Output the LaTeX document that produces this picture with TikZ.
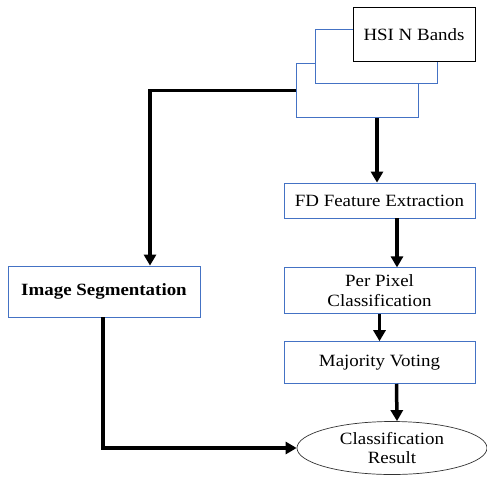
\documentclass[tikz,border=0pt]{standalone}
\usepackage{fontspec}
\setmainfont[FakeStretch=1.1]{Liberation Serif}
\usepackage{xcolor}
\usepackage{tikz}
\usetikzlibrary{arrows.meta,positioning,calc,shapes.geometric}
\definecolor{edge}{HTML}{4472C4}
\newcommand{\txt}{\fontsize{17.2}{19.5}\selectfont}
\tikzset{
  blk/.style={draw=edge, line width=0.8pt, fill=white, minimum width=191pt,
              align=center, inner sep=2pt, font=\txt},
  band/.style={draw=edge, line width=0.8pt, fill=white,
               minimum width=122pt, minimum height=54pt},
  hsib/.style={band, draw=black, line width=1pt, font=\txt},
  resn/.style={ellipse, draw=black!80, line width=0.7pt, fill=white,
               minimum width=190pt, minimum height=53pt, inner sep=0pt,
               align=center, font=\txt},
  ar/.style={-{Triangle[length=11pt,width=12pt]}, line width=3.5pt},
}

\begin{document}
\begin{tikzpicture}[x=1pt, y=-1pt]
\useasboundingbox (0,0) rectangle (487,477);

% ---- INPUT (stacked bands) ----
\node[band] (b3) at (357,90.5) {};
\node[band] (b2) at (376,56) {};
\node[hsib] (hsi) at (414,34.5) {HSI N Bands};

% ---- RIGHT BRANCH ----
\node[blk, minimum height=35pt] (fd) at (379.5,200.5) {FD Feature Extraction};
\node[blk, minimum height=46pt, below=49pt of fd] (pix)
  {Per Pixel\\Classification};
\node[blk, minimum height=42pt, below=27pt of pix] (vote) {Majority Voting};
\node[resn] (res) at (392,448) {Classification\\Result};

% ---- LEFT BRANCH ----
\node[blk, minimum width=192pt, minimum height=51pt] (seg) at (104,291.5)
  {\bfseries Image Segmentation};

% ---- edges ----
\draw[ar] ([xshift=20pt]b3.south) -- ([xshift=-2.5pt]fd.north);
\draw[ar] (b3.west) -| ([xshift=46pt]seg.north);
\draw[ar] ([xshift=17.5pt]fd.south) -- ([xshift=17.5pt]pix.north);
\draw[ar] (pix.south) -- (vote.north);
\draw[ar] ([xshift=17pt]vote.south) -- ([xshift=5pt]res.north);
\draw[ar] ([xshift=-1pt]seg.south) |- (res.west);

\end{tikzpicture}
\end{document}
